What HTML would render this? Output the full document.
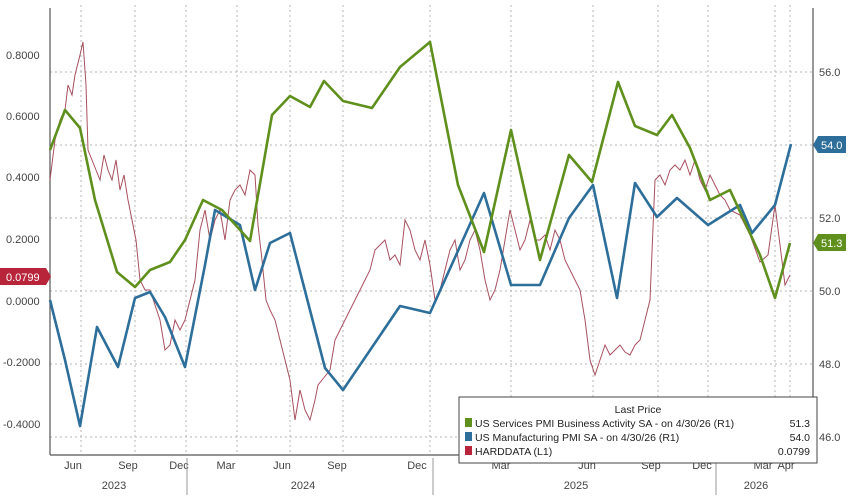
<!DOCTYPE html>
<html><head><meta charset="utf-8"><style>
html,body{margin:0;padding:0;background:#fff;}
svg{display:block;font-family:"Liberation Sans",sans-serif;}
</style></head><body>
<svg width="851" height="500" viewBox="0 0 851 500">
<rect width="851" height="500" fill="#fff"/>
<g stroke="#b5b5b5" stroke-width="1" stroke-dasharray="2,3">
<line x1="50" y1="72" x2="813" y2="72"/>
<line x1="50" y1="145" x2="813" y2="145"/>
<line x1="50" y1="218" x2="813" y2="218"/>
<line x1="50" y1="291" x2="813" y2="291"/>
<line x1="50" y1="364" x2="813" y2="364"/>
<line x1="50" y1="437" x2="813" y2="437"/>
<line x1="81" y1="5" x2="81" y2="455"/><line x1="135" y1="5" x2="135" y2="455"/>
<line x1="186" y1="5" x2="186" y2="455"/><line x1="237" y1="5" x2="237" y2="455"/>
<line x1="290" y1="5" x2="290" y2="455"/><line x1="343" y1="5" x2="343" y2="455"/>
<line x1="430" y1="5" x2="430" y2="455"/><line x1="511" y1="5" x2="511" y2="455"/>
<line x1="593" y1="5" x2="593" y2="455"/><line x1="658" y1="5" x2="658" y2="455"/>
<line x1="708" y1="5" x2="708" y2="455"/><line x1="775" y1="5" x2="775" y2="455"/>
<line x1="790" y1="5" x2="790" y2="455"/>
</g>
<g stroke="#555" stroke-width="1.2">
<line x1="50" y1="8" x2="50" y2="455"/>
<line x1="813" y1="8" x2="813" y2="455"/>
<line x1="50" y1="455" x2="813" y2="455"/>
</g>
<g fill="#444" font-size="11">
<text x="6" y="59">0.8000</text><text x="6" y="120">0.6000</text><text x="6" y="181">0.4000</text>
<text x="6" y="243">0.2000</text><text x="6" y="305">0.0000</text><text x="3" y="366">-0.2000</text><text x="3" y="428">-0.4000</text>
<text x="819" y="76">56.0</text><text x="819" y="222">52.0</text><text x="819" y="295">50.0</text>
<text x="819" y="368">48.0</text><text x="819" y="441">46.0</text>
</g>
<g fill="#444" font-size="11" text-anchor="middle">
<text x="73" y="469">Jun</text><text x="128" y="469">Sep</text><text x="179" y="469">Dec</text><text x="226" y="469">Mar</text>
<text x="282" y="469">Jun</text><text x="337" y="469">Sep</text><text x="417" y="469">Dec</text><text x="501" y="469">Mar</text>
<text x="587" y="469">Jun</text><text x="651" y="469">Sep</text><text x="702" y="469">Dec</text><text x="763" y="469">Mar</text><text x="786" y="469">Apr</text>
<text x="114" y="489">2023</text><text x="303" y="489">2024</text><text x="576" y="489">2025</text><text x="756" y="489">2026</text>
</g>
<g stroke="#999" stroke-width="1"><line x1="187" y1="458" x2="187" y2="495"/><line x1="433" y1="458" x2="433" y2="495"/><line x1="716" y1="458" x2="716" y2="495"/></g>
<polyline fill="none" stroke="#a8505e" stroke-width="1" points="50,180 55,140 60,120 65,110 68,85 72,95 75,75 80,55 83,42 86,85 88,150 92,160 96,170 100,180 104,155 108,170 112,180 116,160 120,190 124,175 128,200 132,220 136,240 140,280 145,290 150,290 155,305 160,320 165,350 170,345 175,320 180,330 185,320 190,300 195,280 200,230 205,210 210,240 215,220 220,210 225,240 230,200 235,190 240,185 245,195 250,170 255,175 258,225 262,260 266,300 270,310 275,320 280,340 285,360 290,380 295,420 300,390 305,410 310,420 315,400 318,385 322,380 330,370 335,340 340,330 345,320 350,310 355,300 360,290 365,280 370,270 375,250 380,245 385,240 390,260 395,255 400,265 405,220 410,230 415,250 420,260 425,240 430,265 435,300 440,290 445,270 450,250 455,240 460,270 465,260 470,240 475,230 480,250 485,280 490,300 495,290 500,270 505,240 510,210 515,230 520,250 525,240 530,220 535,240 540,240 545,235 550,250 555,230 560,240 565,260 570,270 575,280 580,290 585,320 590,360 595,375 600,360 605,345 610,355 615,350 620,345 625,352 630,355 635,345 640,340 645,320 650,300 655,180 660,175 665,185 670,170 675,165 680,170 685,160 690,175 695,160 700,180 705,190 710,175 715,185 720,195 725,200 730,210 740,215 750,235 760,262 768,255 775,205 780,245 785,285 790,275"/>
<polyline fill="none" stroke="#2d6f9a" stroke-width="2.6" stroke-linejoin="round" points="50,300 65,360 80,426 97,327 118,367 135,298 150,292 165,317 185,367 205,265 215,210 240,225 255,290 270,243 290,233 325,368 343,390 400,306 430,313 484,193 511,285 540,285 569,218 593,185 617,298 635,183 657,217 677,198 708,225 740,205 752,233 775,205 791,144"/>
<polyline fill="none" stroke="#5f8f1c" stroke-width="2.6" stroke-linejoin="round" points="50,150 65,110 80,128 95,200 117,272 135,287 150,270 170,262 185,240 203,200 222,210 250,241 272,115 290,96 310,107 324,81 343,101 372,108 400,67 430,42 458,185 484,252 511,130 540,260 569,155 592,182 618,82 635,126 657,135 672,115 690,148 710,200 730,190 760,255 775,298 790,243"/>
<path d="M0,268 H46 L51,276.5 L46,285 H0 Z" fill="#b8243a"/>
<text x="6" y="281" fill="#fff" font-size="11">0.0799</text>
<path d="M813,145 L818,136 H846 V153 H818 Z" fill="#2d6f9a"/>
<text x="821" y="149" fill="#fff" font-size="11">54.0</text>
<path d="M813,243 L818,234 H846 V251 H818 Z" fill="#5f8f1c"/>
<text x="821" y="247" fill="#fff" font-size="11">51.3</text>
<rect x="459" y="397" width="358" height="66" fill="#fff" stroke="#444" stroke-width="1"/>
<g font-size="10.5" fill="#222">
<text x="638" y="413" text-anchor="middle">Last Price</text>
<rect x="465" y="418" width="7" height="9" fill="#5f8f1c"/><text x="475" y="427">US Services PMI Business Activity SA -  on 4/30/26  (R1)</text><text x="810" y="427" text-anchor="end">51.3</text>
<rect x="465" y="432" width="7" height="9" fill="#2d6f9a"/><text x="475" y="441">US Manufacturing PMI SA -  on 4/30/26  (R1)</text><text x="810" y="441" text-anchor="end">54.0</text>
<rect x="465" y="446" width="7" height="9" fill="#b8243a"/><text x="475" y="455">HARDDATA  (L1)</text><text x="810" y="455" text-anchor="end">0.0799</text>
</g>
</svg>
</body></html>
